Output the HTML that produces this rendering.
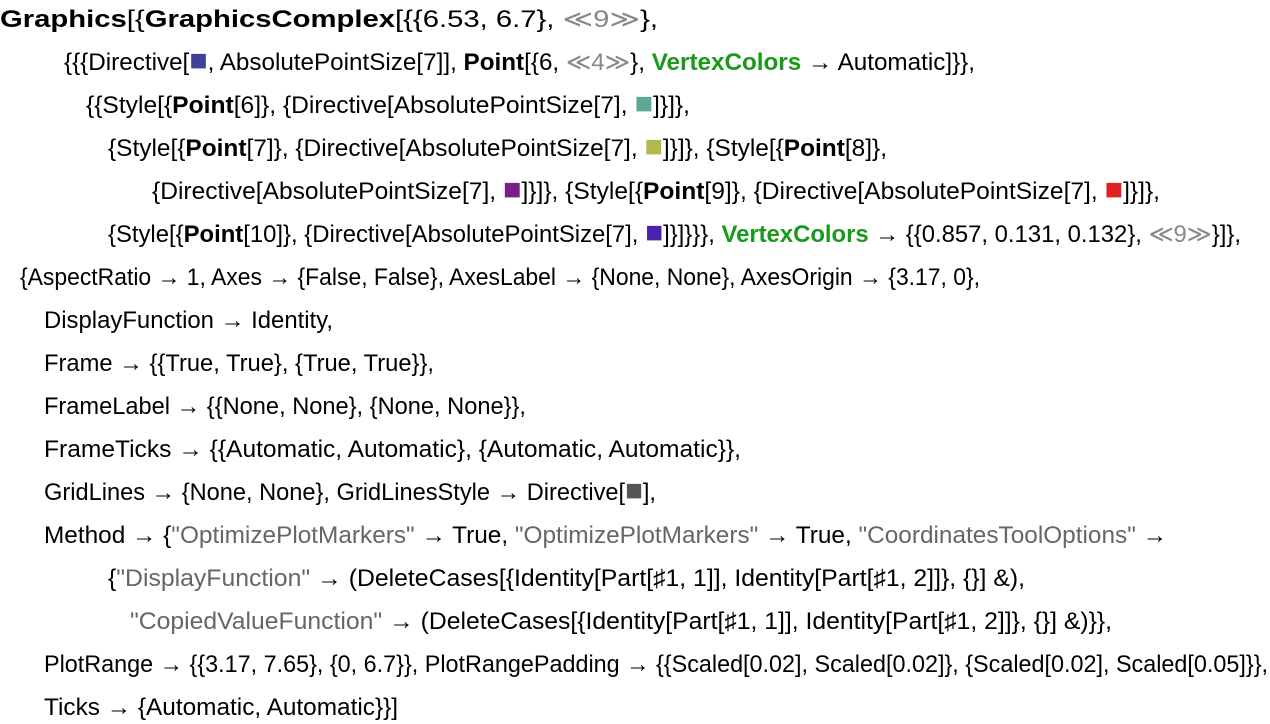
<!DOCTYPE html>
<html><head><meta charset="utf-8"><style>
html,body{margin:0;padding:0;background:#fff;width:1270px;height:724px;overflow:hidden}
svg text{font-family:"Liberation Sans","DejaVu Sans",sans-serif;font-size:24px;fill:#000}
.b{font-weight:bold}
.g{fill:#1a9a1a;font-weight:bold}
.m{fill:#888}
.s{fill:#666}
.q{font-size:30px}
</style></head><body>
<svg width="1270" height="724" xmlns="http://www.w3.org/2000/svg">
<text x="0" y="27" textLength="658" lengthAdjust="spacingAndGlyphs"><tspan class="b">Graphics</tspan>[{<tspan class="b">GraphicsComplex</tspan>[{{6.53, 6.7}, <tspan class="m">≪9≫</tspan>},</text>
<text x="64" y="70" textLength="911" lengthAdjust="spacingAndGlyphs">{{{Directive[<tspan class="q" fill="#3f3f9c">■</tspan>, AbsolutePointSize[7]], <tspan class="b">Point</tspan>[{6, <tspan class="m">≪4≫</tspan>}, <tspan class="g">VertexColors</tspan> → Automatic]}},</text>
<text x="86" y="113" textLength="604" lengthAdjust="spacingAndGlyphs">{{Style[{<tspan class="b">Point</tspan>[6]}, {Directive[AbsolutePointSize[7], <tspan class="q" fill="#5ea898">■</tspan>]}]},</text>
<text x="108" y="156" textLength="779" lengthAdjust="spacingAndGlyphs">{Style[{<tspan class="b">Point</tspan>[7]}, {Directive[AbsolutePointSize[7], <tspan class="q" fill="#b2b94a">■</tspan>]}]}, {Style[{<tspan class="b">Point</tspan>[8]},</text>
<text x="152" y="199" textLength="1008" lengthAdjust="spacingAndGlyphs">{Directive[AbsolutePointSize[7], <tspan class="q" fill="#7a1e88">■</tspan>]}]}, {Style[{<tspan class="b">Point</tspan>[9]}, {Directive[AbsolutePointSize[7], <tspan class="q" fill="#dd2222">■</tspan>]}]},</text>
<text x="108" y="242" textLength="1133" lengthAdjust="spacingAndGlyphs">{Style[{<tspan class="b">Point</tspan>[10]}, {Directive[AbsolutePointSize[7], <tspan class="q" fill="#4a22b0">■</tspan>]}]}}}, <tspan class="g">VertexColors</tspan> → {{0.857, 0.131, 0.132}, <tspan class="m">≪9≫</tspan>}]},</text>
<text x="20" y="285" textLength="960" lengthAdjust="spacingAndGlyphs">{AspectRatio → 1, Axes → {False, False}, AxesLabel → {None, None}, AxesOrigin → {3.17, 0},</text>
<text x="44" y="328" textLength="289" lengthAdjust="spacingAndGlyphs">DisplayFunction → Identity,</text>
<text x="44" y="371" textLength="390" lengthAdjust="spacingAndGlyphs">Frame → {{True, True}, {True, True}},</text>
<text x="44" y="414" textLength="482" lengthAdjust="spacingAndGlyphs">FrameLabel → {{None, None}, {None, None}},</text>
<text x="44" y="457" textLength="697" lengthAdjust="spacingAndGlyphs">FrameTicks → {{Automatic, Automatic}, {Automatic, Automatic}},</text>
<text x="44" y="500" textLength="612" lengthAdjust="spacingAndGlyphs">GridLines → {None, None}, GridLinesStyle → Directive[<tspan class="q" fill="#555">■</tspan>],</text>
<text x="44" y="543" textLength="1123" lengthAdjust="spacingAndGlyphs">Method → {<tspan class="s">"OptimizePlotMarkers"</tspan> → True, <tspan class="s">"OptimizePlotMarkers"</tspan> → True, <tspan class="s">"CoordinatesToolOptions"</tspan> →</text>
<text x="108" y="586" textLength="917" lengthAdjust="spacingAndGlyphs">{<tspan class="s">"DisplayFunction"</tspan> → (DeleteCases[{Identity[Part[♯1, 1]], Identity[Part[♯1, 2]]}, {}] &amp;),</text>
<text x="130" y="629" textLength="982" lengthAdjust="spacingAndGlyphs"><tspan class="s">"CopiedValueFunction"</tspan> → (DeleteCases[{Identity[Part[♯1, 1]], Identity[Part[♯1, 2]]}, {}] &amp;)}},</text>
<text x="44" y="672" textLength="1224" lengthAdjust="spacingAndGlyphs">PlotRange → {{3.17, 7.65}, {0, 6.7}}, PlotRangePadding → {{Scaled[0.02], Scaled[0.02]}, {Scaled[0.02], Scaled[0.05]}},</text>
<text x="44" y="715" textLength="354" lengthAdjust="spacingAndGlyphs">Ticks → {Automatic, Automatic}}]</text>
</svg>
</body></html>
